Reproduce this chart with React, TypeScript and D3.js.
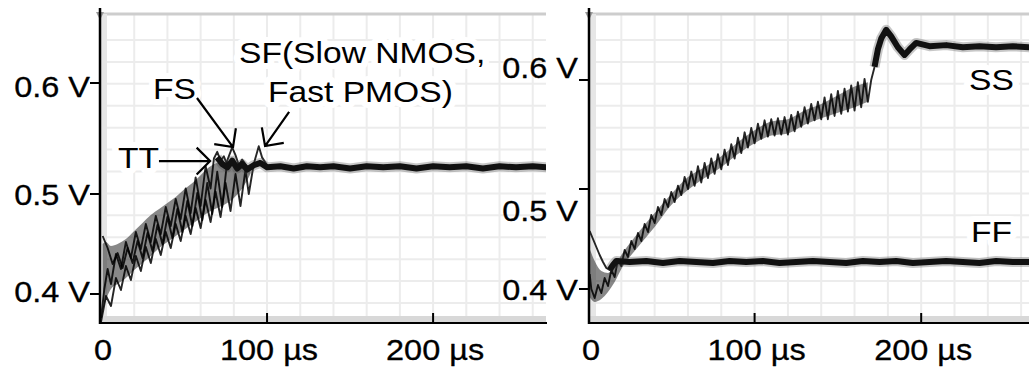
import React from 'react';
import * as d3 from 'd3';

type P = [number, number];

// ---------------- data ----------------
const yTickValues = [0.4, 0.5, 0.6];
const yTickLabels = ['0.4 V', '0.5 V', '0.6 V'];
const xTickValues = [0, 100, 200];
const xTickLabels = ['0', '100 µs', '200 µs'];
const gridTimes = [20, 40, 60, 80, 100, 120, 140, 160, 180, 200, 220, 240, 260];

// left panel (TT / FS / SF corners)
const ttTrace: P[] = [[0,0.376],[2,0.405],[4,0.425],[6,0.41],[9,0.44],[12,0.425],[15,0.452],[18,0.436],[21,0.462],[24,0.445],[27,0.47],[30,0.452],[33,0.478],[36,0.46],[39,0.487],[42,0.468],[45,0.495],[48,0.475],[51,0.505],[54,0.481],[57,0.515],[60,0.488],[63,0.525],[66,0.505],[68,0.532],[70,0.538],[72,0.53],[74,0.534],[76,0.526]];
const fsTrace: P[] = [[1,0.458],[4,0.446],[7,0.43],[10,0.441],[13,0.426],[16,0.446],[19,0.431],[22,0.453],[25,0.436],[28,0.461],[31,0.443],[34,0.469],[37,0.45],[40,0.477],[43,0.456],[46,0.485],[49,0.462],[52,0.493],[55,0.468],[58,0.501],[61,0.474],[64,0.51],[67,0.48],[70,0.52],[73,0.487],[76,0.53],[79,0.542],[81,0.535],[83,0.526],[85,0.531],[88,0.525]];
const sfTrace: P[] = [[0,0.372],[3,0.398],[6,0.388],[9,0.416],[12,0.404],[15,0.428],[18,0.414],[21,0.438],[24,0.423],[27,0.447],[30,0.431],[33,0.455],[36,0.439],[39,0.462],[42,0.446],[45,0.47],[48,0.453],[51,0.478],[54,0.46],[57,0.486],[60,0.466],[63,0.494],[66,0.472],[69,0.502],[72,0.477],[75,0.51],[78,0.483],[81,0.518],[84,0.488],[87,0.522],[89,0.5],[92,0.527],[95,0.543],[97,0.533],[100,0.526]];
const leftSettled: P[] = [[70,0.533],[73,0.527],[76,0.524],[79,0.53],[82,0.523],[85,0.527],[88,0.522],[92,0.526],[96,0.528],[100,0.524],[108,0.525],[116,0.523],[124,0.525],[132,0.524],[140,0.525],[150,0.523],[160,0.525],[170,0.524],[180,0.525],[190,0.523],[200,0.525],[210,0.524],[220,0.525],[230,0.523],[240,0.525],[250,0.524],[260,0.525],[270,0.524]];
const leftBandT = [1, 3, 6, 10, 15, 20, 25, 30, 35, 40, 45, 50, 55, 60, 65, 70, 75, 80, 85, 90];
const leftBandHi = [0.45, 0.452, 0.448, 0.45, 0.455, 0.463, 0.471, 0.479, 0.485, 0.491, 0.497, 0.504, 0.51, 0.517, 0.524, 0.528, 0.528, 0.528, 0.527, 0.525];
const leftBandLo = [0.382, 0.394, 0.405, 0.41, 0.416, 0.424, 0.431, 0.438, 0.446, 0.452, 0.458, 0.464, 0.47, 0.476, 0.482, 0.486, 0.49, 0.496, 0.505, 0.518];

// right panel (SS / FF corners)
const ssTrace: P[] = [[1,0.415],[2,0.4],[4,0.391],[6,0.404],[8,0.396],[10,0.411],[12,0.403],[14,0.419],[16,0.412],[18,0.43],[20,0.423],[22,0.439],[24,0.432],[26,0.448],[28,0.44],[30,0.456],[32,0.448],[34,0.465],[36,0.457],[38,0.474],[40,0.466],[42,0.482],[44,0.474],[46,0.49],[48,0.482],[50,0.497],[52,0.487],[54,0.503],[56,0.494],[58,0.511],[60,0.5],[62,0.516],[64,0.503],[66,0.521],[68,0.506],[70,0.524],[72,0.51],[74,0.528],[76,0.514],[78,0.532],[80,0.518],[82,0.536],[84,0.522],[86,0.541],[88,0.528],[90,0.547],[92,0.533],[94,0.552],[96,0.538],[98,0.556],[100,0.542],[102,0.56],[104,0.546],[106,0.563],[108,0.548],[110,0.564],[112,0.549],[114,0.565],[116,0.55],[118,0.566],[120,0.55],[122,0.568],[124,0.553],[126,0.571],[128,0.557],[130,0.575],[132,0.56],[134,0.578],[136,0.563],[138,0.58],[140,0.564],[142,0.584],[144,0.564],[146,0.587],[148,0.567],[150,0.59],[152,0.569],[154,0.592],[156,0.571],[158,0.595],[160,0.572],[162,0.598],[164,0.575],[166,0.601],[168,0.58],[170,0.6],[172,0.612]];
const ssSettled: P[] = [[172,0.612],[174,0.628],[176,0.638],[179,0.646],[182,0.64],[186,0.63],[190,0.623],[193,0.628],[197,0.634],[205,0.631],[215,0.632],[225,0.63],[235,0.631],[245,0.63],[255,0.631],[265,0.63],[272,0.631]];
const ssBandT = [1, 4, 8, 12, 16, 20, 30, 40, 50, 60, 70, 80, 90, 100, 110, 120, 130, 140, 150, 160, 168];
const ssBandHi = [0.44, 0.428, 0.418, 0.416, 0.423, 0.434, 0.456, 0.476, 0.495, 0.511, 0.52, 0.53, 0.543, 0.554, 0.562, 0.564, 0.572, 0.578, 0.586, 0.594, 0.598];
const ssBandLo = [0.392, 0.387, 0.39, 0.397, 0.407, 0.42, 0.442, 0.462, 0.484, 0.499, 0.51, 0.52, 0.532, 0.542, 0.549, 0.551, 0.559, 0.565, 0.57, 0.575, 0.58];
const ffTrace: P[] = [[1,0.458],[3,0.45],[5,0.442],[7,0.434],[9,0.427],[11,0.421],[13,0.419],[15,0.424],[17,0.428]];
const ffSettled: P[] = [[13,0.419],[15,0.424],[17,0.428],[25,0.427],[35,0.428],[45,0.426],[55,0.428],[65,0.427],[75,0.426],[85,0.428],[95,0.427],[105,0.428],[115,0.426],[125,0.427],[135,0.428],[145,0.427],[155,0.426],[165,0.428],[175,0.427],[185,0.428],[195,0.426],[205,0.427],[215,0.428],[225,0.427],[235,0.426],[245,0.428],[255,0.427],[265,0.427],[272,0.428]];

// annotations (data coordinates: time µs, volts)
const leftNotes = [
  { text: 'TT', t: 10.2, v: 0.5234 },
  { text: 'FS', t: 31.3, v: 0.5856 },
  { text: 'SF(Slow NMOS,', t: 83.1, v: 0.618 },
  { text: 'Fast PMOS)', t: 100.6, v: 0.583 },
];
const leftArrows = [
  { from: [34.9, 0.5297], to: [65.7, 0.5297] },
  { from: [57.8, 0.5865], to: [79.5, 0.5423] },
  { from: [113.3, 0.5739], to: [98.8, 0.5432] },
];
const rightNotes = [
  { text: 'SS', t: 228.7, v: 0.5908 },
  { text: 'FF', t: 229.9, v: 0.447 },
];

// ---------------- layout ----------------
const W = 1029, H = 369;
const FONT = "'Liberation Sans', Arial, Helvetica, sans-serif";
const STRETCH = 1.12;
const TICK_FS = 29;
const NOTE_FS = 30;
const gridPix = d3.scaleLinear().domain([0, 12]).range([303, 40]);

const leftCfg = {
  id: 'L', x0: 100, x1: 546, tMax: 268, xRange: [101, 546], yRange: [294, 194, 83],
  labelDy: [-3, 0, 3], labelX: 90,
};
const rightCfg = {
  id: 'R', x0: 589, x1: 1029, tMax: 270, xRange: [588, 1037.8], yRange: [289, 189, 80],
  labelDy: [0, 21, -13], labelX: 578,
};

function Txt({ x, y, size, anchor = 'start', halo = false, children }: any) {
  return (
    <text
      transform={`translate(${x},${y}) scale(${STRETCH},1)`}
      textAnchor={anchor}
      fontSize={size}
      fontFamily={FONT}
      fill="#000"
      stroke={halo ? '#fff' : '#000'}
      strokeWidth={halo ? 12 : 0.3}
      strokeLinejoin="round"
      paintOrder="stroke"
    >
      {children}
    </text>
  );
}

function arrowPath(tail: number[], tip: number[], len = 19, half = Math.PI / 4) {
  const a = Math.atan2(tail[1] - tip[1], tail[0] - tip[0]);
  const a1 = a + half, a2 = a - half;
  return `M${tail[0]},${tail[1]}L${tip[0]},${tip[1]}M${tip[0] + len * Math.cos(a1)},${tip[1] + len * Math.sin(a1)}L${tip[0]},${tip[1]}L${tip[0] + len * Math.cos(a2)},${tip[1] + len * Math.sin(a2)}`;
}

function Panel({ cfg, traces, settled, band, notes, arrows }: any) {
  const x = d3.scaleLinear().domain([0, cfg.tMax]).range(cfg.xRange);
  const y = d3.scaleLinear().domain(yTickValues).range(cfg.yRange);
  const line = d3.line<P>().x(d => x(d[0])).y(d => y(d[1]));
  const idx = d3.range(band.t.length);
  const area = d3.area<number>()
    .x(i => x(band.t[i]))
    .y0(i => y(band.lo[i]))
    .y1(i => y(band.hi[i]))
    .curve(d3.curveMonotoneX);
  const top = 14, bottom = 320;
  const clipId = `clip${cfg.id}`;
  return (
    <g>
      <defs>
        <clipPath id={clipId}>
          <rect x={cfg.x0 + 1} y={8} width={cfg.x1 - cfg.x0 - 1} height={314} />
        </clipPath>
      </defs>
      {/* grid */}
      <g stroke="#ececec" strokeWidth={2}>
        {gridTimes.map(t => x(t) < cfg.x1 ? (
          <line key={'v' + t} x1={x(t)} x2={x(t)} y1={top} y2={bottom} />
        ) : null)}
        {d3.range(13).map(i => (
          <line key={'h' + i} x1={cfg.x0 + 1} x2={cfg.x1} y1={gridPix(i)} y2={gridPix(i)} />
        ))}
      </g>
      {/* scope frame */}
      <line x1={cfg.x0} x2={cfg.x1} y1={top} y2={top} stroke="#cdcdcd" strokeWidth={3} />
      <rect x={cfg.x0 + 1} y={top} width={6} height={bottom - top} fill="#e6e6e6" />
      <rect x={cfg.x0 + 1} y={316} width={cfg.x1 - cfg.x0 - 1} height={6} fill="#d8d8d8" />
      <path d={`M${cfg.x0 - 4},${top - 2}L${cfg.x0 + 4},${top - 2}L${cfg.x0},${top + 6}Z`} fill="#999" />
      {/* annotation labels with white backing */}
      {notes.map((n: any) => (
        <Txt key={n.text} x={x(n.t)} y={y(n.v)} size={NOTE_FS} halo>{n.text}</Txt>
      ))}
      {/* data */}
      <g clipPath={`url(#${clipId})`}>
        <path d={area(idx) || ''} fill="#262626" fillOpacity={0.55} />
        {traces.map((tr: P[], i: number) => (
          <path key={'t' + i} d={line(tr) || ''} fill="none" stroke="#000" strokeWidth={1.9} strokeOpacity={0.85} strokeLinejoin="round" />
        ))}
        {settled.map((tr: P[], i: number) => (
          <g key={'s' + i}>
            <path d={line(tr) || ''} fill="none" stroke="#444" strokeWidth={10} strokeOpacity={0.3} strokeLinejoin="round" />
            <path d={line(tr) || ''} fill="none" stroke="#111" strokeWidth={6} strokeLinejoin="round" />
          </g>
        ))}
      </g>
      {/* arrows */}
      {arrows.map((a: any, i: number) => (
        <path key={'a' + i} d={arrowPath([x(a.from[0]), y(a.from[1])], [x(a.to[0]), y(a.to[1])])} fill="none" stroke="#000" strokeWidth={2.2} />
      ))}
      {/* axes */}
      <line x1={cfg.x0 - 1} x2={cfg.x1 + 1} y1={323} y2={323} stroke="#000" strokeWidth={2} />
      <line x1={cfg.x0} x2={cfg.x0} y1={8} y2={324} stroke="#000" strokeWidth={2.5} />
      {xTickValues.map((t, i) => (
        <g key={'xt' + t}>
          {t > 0 && <line x1={x(t)} x2={x(t)} y1={313} y2={323} stroke="#000" strokeWidth={2} />}
          <Txt x={Math.max(x(t), cfg.x0) + 2} y={360} size={TICK_FS} anchor="middle">{xTickLabels[i]}</Txt>
        </g>
      ))}
      {yTickValues.map((v, i) => (
        <g key={'yt' + v}>
          <line x1={cfg.x0 - 10} x2={cfg.x0} y1={y(v)} y2={y(v)} stroke="#000" strokeWidth={2} />
          <Txt x={cfg.labelX} y={y(v) + cfg.labelDy[i] + 10.5} size={TICK_FS} anchor="end">{yTickLabels[i]}</Txt>
        </g>
      ))}
    </g>
  );
}

export default function App() {
  return (
    <svg width={W} height={H} viewBox={`0 0 ${W} ${H}`} style={{ position: 'absolute', left: 0, top: 0, background: '#fff' }}>
      <rect x={0} y={0} width={W} height={H} fill="#fff" />
      <Panel
        cfg={leftCfg}
        traces={[ttTrace, fsTrace, sfTrace]}
        settled={[leftSettled]}
        band={{ t: leftBandT, hi: leftBandHi, lo: leftBandLo }}
        notes={leftNotes}
        arrows={leftArrows}
      />
      <Panel
        cfg={rightCfg}
        traces={[ssTrace, ffTrace]}
        settled={[ssSettled, ffSettled]}
        band={{ t: ssBandT, hi: ssBandHi, lo: ssBandLo }}
        notes={rightNotes}
        arrows={[]}
      />
    </svg>
  );
}
